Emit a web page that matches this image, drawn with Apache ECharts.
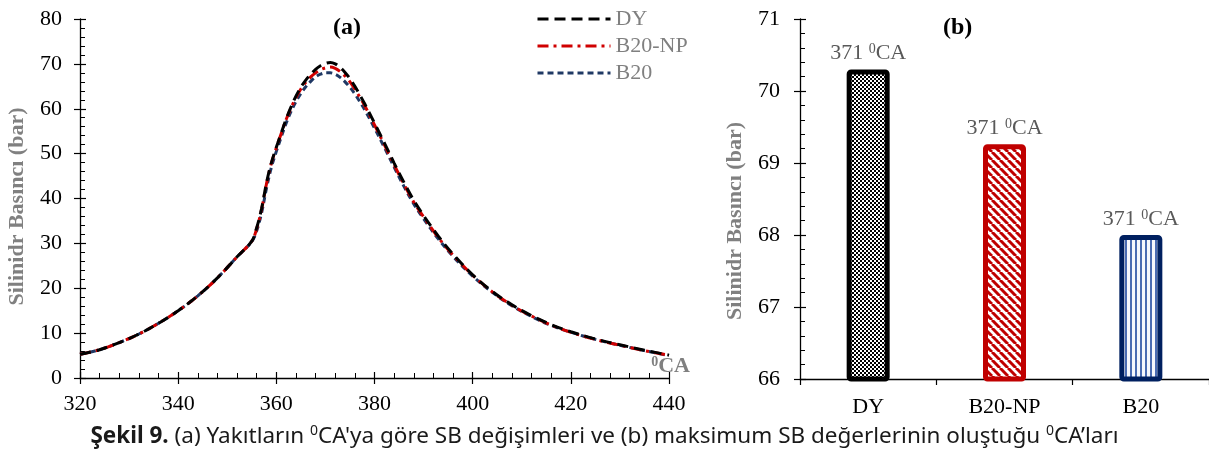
<!DOCTYPE html>
<html><head><meta charset="utf-8">
<script src="https://cdn.jsdelivr.net/npm/echarts@6/dist/echarts.min.js"></script>
<style>html,body{margin:0;padding:0;background:#fff}#c{width:1209px;height:455px}</style>
</head><body><div id="c"></div>
<script>
// ---- data (a): cylinder pressure vs crank angle ----
const crankAngle = [320,324,328,332,336,340,344,348,352,355,356,357,358,359,360,361,362,363,364,365,366,367,368,369,370,371,372,373,374,375,376,377,378,380,382,384,386,388,390,393,396,400,404,408,412,416,420,425,430,435,440];
const pressureDY = [5.3,6.3,7.9,9.8,12.2,15.0,18.3,22.3,27.0,30.5,33.5,37.8,43.5,48.0,51.4,54.6,57.7,60.4,62.8,64.8,66.4,67.7,68.8,69.6,70.1,70.3,70.0,69.2,68.1,66.7,65.0,63.1,61.1,56.8,52.4,47.9,43.6,39.6,36.2,31.6,27.6,23.0,19.3,16.3,13.9,11.9,10.3,8.7,7.4,6.2,5.1];
const pressureB20NP = [5.3,6.3,7.9,9.8,12.2,15.0,18.3,22.3,27.0,30.5,33.3,37.6,43.3,47.9,51.3,54.5,57.6,60.2,62.5,64.4,65.9,67.1,68.0,68.7,69.1,69.3,69.0,68.3,67.3,66.0,64.4,62.6,60.7,56.4,52.0,47.5,43.2,39.2,35.9,31.3,27.4,22.9,19.2,16.2,13.8,11.8,10.2,8.6,7.3,6.1,5.1];
const pressureB20 = [5.3,6.3,7.9,9.8,12.2,15.0,18.3,22.3,27.0,30.4,32.8,36.8,42.3,47.0,50.5,53.7,56.8,59.4,61.6,63.4,64.9,66.1,67.1,67.7,68.0,68.0,67.7,67.0,66.0,64.8,63.3,61.6,59.8,55.7,51.4,47.0,42.7,38.8,35.5,31.0,27.1,22.7,19.1,16.1,13.7,11.7,10.2,8.6,7.3,6.1,5.0];
const seriesNames = ['DY','B20-NP','B20'];
// ---- data (b): maximum pressure ----
const barCategories = ['DY','B20-NP','B20'];
const barMaxPressure = [70.3, 69.26, 68.0];
const barPeakAngle = [371, 371, 371];

const serif = 'Liberation Serif';
const gray = '#808080';

function pat(w, h, draw){ const c=document.createElement('canvas'); c.width=w; c.height=h; const g=c.getContext('2d'); draw(g,w,h); return c; }
const checker = pat(4,4,(g)=>{g.fillStyle='#fff';g.fillRect(0,0,4,4);g.fillStyle='#000';g.fillRect(0,0,2,2);g.fillRect(2,2,2,2);});
const diag = pat(8,8,(g,w,h)=>{g.fillStyle='#fff';g.fillRect(0,0,w,h);g.strokeStyle='#c00000';g.lineWidth=3;
  for(const o of [-8,0,8]){g.beginPath();g.moveTo(o,0);g.lineTo(o+8,8);g.stroke();}});
const vert = pat(5,4,(g)=>{g.fillStyle='#f6f8fd';g.fillRect(0,0,5,4);g.fillStyle='#4a6cb3';g.fillRect(0,0,2,4);});
const barFills = [checker, diag, vert];
const barBorders = ['#000000','#c00000','#002060'];

const lineColors = ['#000000','#d00000','#1f3864'];
const lineDash = [[11,6],[11,5,3,5],[6,4]];
const lineData = [pressureDY, pressureB20NP, pressureB20];

const tickLabel = {fontFamily: serif, fontSize: 22, color: '#000'};
const axisLine = {show: true, onZero: false, lineStyle: {color: '#000', width: 1.3}};

const option = {
  animation: false,
  backgroundColor: '#fff',
  grid: [
    {left: 80, top: 19, width: 589, height: 359},
    {left: 800, top: 19, width: 409, height: 360}
  ],
  legend: {
    data: seriesNames, orient: 'vertical', left: 531, top: 3, itemWidth: 73, itemHeight: 12, itemGap: 5,
    itemStyle: {opacity: 0}, lineStyle: {width: 3},
    textStyle: {fontFamily: serif, fontSize: 22, color: gray}
  },
  xAxis: [
    {type: 'value', gridIndex: 0, position: 'bottom', min: 320, max: 440, interval: 20,
      axisLine: axisLine, axisTick: {show: true, inside: true, length: 6, lineStyle: {color: '#000', width: 1.2}},
      minorTick: {show: true, splitNumber: 5, length: 5, lineStyle: {color: '#000', width: 1}},
      axisLabel: Object.assign({margin: 15}, tickLabel), splitLine: {show: false},
      name: '{s|0}{c|CA}', nameLocation: 'end', nameGap: 21,
      nameTextStyle: {align: 'right', verticalAlign: 'bottom', padding: [0,0,1,0], fontFamily: serif, fontWeight: 'bold', fontSize: 22, color: gray,
        rich: {s: {fontFamily: serif, fontWeight: 'bold', fontSize: 14, color: gray, verticalAlign: 'top', lineHeight: 22}, c: {fontFamily: serif, fontWeight: 'bold', fontSize: 22, color: gray, lineHeight: 22}}}},
    {type: 'value', gridIndex: 0, position: 'bottom', min: 320, max: 440, interval: 20,
      axisLine: {show: false}, axisTick: {show: true, inside: false, length: 6, lineStyle: {color: '#000', width: 1.2}},
      axisLabel: {show: false}, splitLine: {show: false}},
    {type: 'category', gridIndex: 1, position: 'bottom', data: barCategories,
      axisLine: axisLine, axisTick: {show: true, inside: false, length: 6, alignWithLabel: false, lineStyle: {color: '#000', width: 1.2}},
      axisLabel: Object.assign({margin: 17}, tickLabel)}
  ],
  yAxis: [
    {type: 'value', gridIndex: 0, position: 'left', min: 0, max: 80, interval: 10,
      axisLine: axisLine, axisTick: {show: true, inside: true, length: 6, lineStyle: {color: '#000', width: 1.2}},
      minorTick: {show: true, splitNumber: 5, length: 5, lineStyle: {color: '#000', width: 1}},
      axisLabel: Object.assign({margin: 18}, tickLabel), splitLine: {show: false},
      name: 'Silinidr Basıncı (bar)', nameLocation: 'middle', nameGap: 52,
      nameTextStyle: {fontFamily: serif, fontWeight: 'bold', fontSize: 22, color: gray, padding: [0, 16, 0, 0]}},
    {type: 'value', gridIndex: 0, position: 'left', min: 0, max: 80, interval: 10,
      axisLine: {show: false}, axisTick: {show: true, inside: false, length: 6, lineStyle: {color: '#000', width: 1.2}},
      axisLabel: {show: false}, splitLine: {show: false}},
    {type: 'value', gridIndex: 1, position: 'left', min: 66, max: 71, interval: 1,
      axisLine: axisLine, axisTick: {show: true, inside: true, length: 6, lineStyle: {color: '#000', width: 1.2}},
      minorTick: {show: true, splitNumber: 5, length: 5, lineStyle: {color: '#000', width: 1}},
      axisLabel: Object.assign({margin: 20}, tickLabel), splitLine: {show: false},
      name: 'Silinidr Basıncı (bar)', nameLocation: 'middle', nameGap: 54,
      nameTextStyle: {fontFamily: serif, fontWeight: 'bold', fontSize: 22, color: gray, padding: [0, 44, 0, 0]}},
    {type: 'value', gridIndex: 1, position: 'left', min: 66, max: 71, interval: 1,
      axisLine: {show: false}, axisTick: {show: true, inside: false, length: 6, lineStyle: {color: '#000', width: 1.2}},
      axisLabel: {show: false}, splitLine: {show: false}}
  ],
  series: seriesNames.map((n, i) => ({
    name: n, type: 'line', xAxisIndex: 0, yAxisIndex: 0, symbol: 'none', smooth: 0.35,
    data: crankAngle.map((x, k) => [x, lineData[i][k]]),
    lineStyle: {color: lineColors[i], width: 3, type: lineDash[i]},
    itemStyle: {color: lineColors[i]}, z: 3 - i
  })).concat([{
    type: 'bar', xAxisIndex: 2, yAxisIndex: 2, barWidth: 43,
    data: barMaxPressure.map((v, i) => ({value: v, itemStyle: {color: {image: barFills[i], repeat: 'repeat'}, borderColor: barBorders[i], borderWidth: 5, borderRadius: 2}})),
    label: {show: true, position: 'top', distance: 5, fontFamily: serif, fontSize: 22, color: '#595959',
      formatter: (p) => barPeakAngle[p.dataIndex] + ' {s|0}{c|CA}',
      rich: {s: {fontFamily: serif, fontSize: 14, color: '#595959', verticalAlign: 'top', lineHeight: 22}, c: {fontFamily: serif, fontSize: 22, color: '#595959', lineHeight: 22}}}
  }]),
  graphic: [
    {type: 'text', left: 333, top: 16, style: {text: '(a)', fontFamily: serif, fontWeight: 'bold', fontSize: 24, fill: '#000'}},
    {type: 'text', left: 943, top: 16, style: {text: '(b)', fontFamily: serif, fontWeight: 'bold', fontSize: 24, fill: '#000'}},
    {type: 'text', left: 'center', top: 424, style: {
      text: '{b|Şekil 9.} (a) Yakıtların {s|0}CA\'ya göre SB değişimleri ve (b) maksimum SB değerlerinin oluştuğu {s|0}CA’ları',
      fontFamily: 'Noto Sans', fontSize: 22.5, fill: '#1a1a1a',
      rich: {b: {fontFamily: 'Noto Sans', fontSize: 22.5, fontWeight: 'bold', fill: '#1a1a1a', lineHeight: 26},
             s: {fontFamily: 'Noto Sans', fontSize: 14, fill: '#1a1a1a', verticalAlign: 'top', lineHeight: 26}}}}
  ]
};
const chart = echarts.init(document.getElementById('c'));
chart.setOption(option);
</script></body></html>
